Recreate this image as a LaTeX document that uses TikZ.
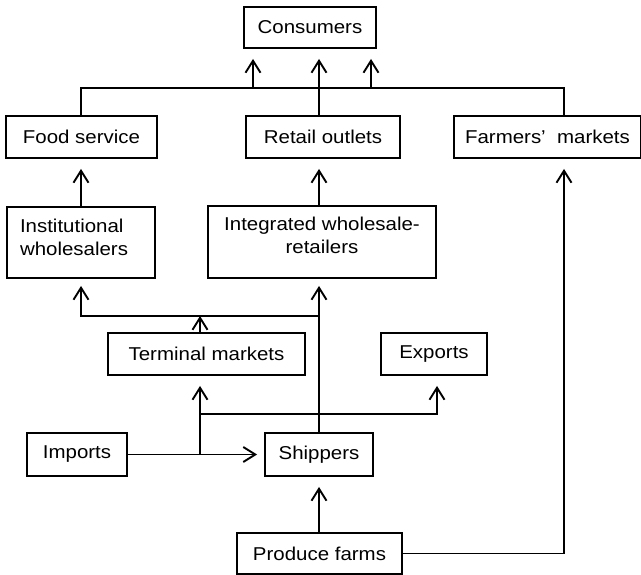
\documentclass[tikz,border=0pt]{standalone}
\usepackage{fontspec}
\setmainfont{Liberation Sans}[FakeStretch=1.1]
\usetikzlibrary{arrows.meta}
\tikzset{box/.style={draw, line width=1.9pt, inner sep=0pt, align=center,
        font=\fontsize{18.6}{23}\selectfont},
    flow/.style={line width=1.9pt},
    arr/.style={flow, -{Straight Barb[length=12pt,width=15pt,line width=1.9pt]}},
    }

\begin{document}
\begin{tikzpicture}[x=1pt,y=-1pt]
	\useasboundingbox (0,0) rectangle (641,575);
	% boxes
	\node[box,minimum width=132pt,minimum height=41pt] (cons) at (310,27.5) {Consumers};
	\node[box,minimum width=151pt,minimum height=42pt] (food) at (81.5,137) {Food service};
	\node[box,minimum width=154pt,minimum height=42pt] (retail) at (323,137) {Retail outlets};
	\node[box,minimum width=187pt,minimum height=42pt] (farm) at (547.5,137) {Farmers'\ \ markets};
	\node[box,minimum width=148pt,minimum height=71pt,align=left,text width=122pt,
		inner xsep=13pt] (inst) at (81,242.5) {Institutional\\wholesalers\rule[-11pt]{0pt}{0pt}};
	\node[box,minimum width=228pt,minimum height=72pt,text depth=14pt] (integ) at (322,242)
		{Integrated wholesale-\\retailers};
	\node[box,minimum width=197pt,minimum height=42pt] (term) at (206.5,354) {Terminal markets};
	\node[box,minimum width=106pt,minimum height=42pt] (exp) at (434,354) {Exports};
	\node[box,minimum width=100pt,minimum height=43pt] (imp) at (77,454.5) {Imports};
	\node[box,minimum width=108pt,minimum height=43pt] (ship) at (319,454.5) {Shippers};
	\node[box,minimum width=165pt,minimum height=41pt] (prod) at (319.5,553.5) {Produce farms};
	% helper points
	\coordinate (bus) at (0,88);
	\coordinate (hub) at (319,316);
	\coordinate (tcol) at (200,0);
	\coordinate (fcol) at (564,0);
	% to consumers
	\draw[flow] (food.north -| inst) |- (fcol |- bus) -- (farm.north -| fcol);
	\draw[arr,shorten >=10pt] (253,88) -- (cons.south -| 253,0);
	\draw[arr,shorten >=10pt] (371,88) -- (cons.south -| 371,0);
	\draw[arr,shorten >=10pt] (retail.north -| ship) -- (cons.south -| ship);
	% second row
	\draw[arr,shorten >=10pt] (inst.north) -- (food.south -| inst);
	\draw[arr,shorten >=10pt] (integ.north -| ship) -- (retail.south -| ship);
	\draw[arr,shorten >=10pt] (prod.east) -| (farm.south -| fcol);
	% shippers and markets
	\draw[flow] (ship.north) -- (hub);
	\draw[arr,shorten >=7pt] (hub) -| (inst.south);
	\draw[arr,shorten >=7pt] (hub) -- (integ.south -| hub);
	\draw[arr] (term.north -| tcol) -- (hub -| tcol);
	\draw[arr,shorten >=7pt] (imp.east) -- (ship.west);
	\draw[arr,shorten >=10pt] (imp.east -| tcol) -- (term.south -| tcol);
	\draw[arr,shorten >=10pt] (tcol |- 0,414) -| (exp.south -| 437,0);
	\draw[arr,shorten >=10pt] (prod.north -| ship) -- (ship.south);
\end{tikzpicture}
\end{document}
